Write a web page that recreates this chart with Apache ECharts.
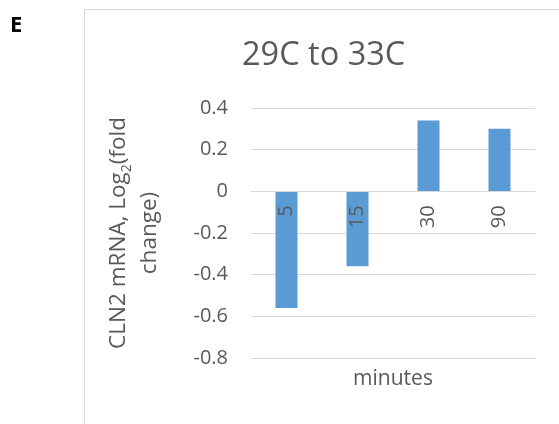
<!DOCTYPE html>
<html>
<head>
<meta charset="utf-8">
<script src="https://cdn.jsdelivr.net/npm/echarts@6/dist/echarts.min.js"></script>
<style>
html,body{margin:0;padding:0;background:#fff;}
#chart{width:559px;height:424px;}
</style>
</head>
<body>
<div id="chart"></div>
<script>
const categories = ['5', '15', '30', '90'];
const values = [-0.56, -0.36, 0.34, 0.30];
const yMin = -0.8;
const yMax = 0.4;
const yStep = 0.2;
const titleText = '29C to 33C';
const xName = 'minutes';
const panelLetter = 'E';

const FONT = 'Open Sans';
const GREY = '#595959';

const GRID_TOP = 108, GRID_BOTTOM = 66, H = 424;
const plotH = H - GRID_TOP - GRID_BOTTOM;
// move the category axis (and its labels) up to the y = 0 line
const zeroOffset = -plotH * (0 - yMin) / (yMax - yMin);

const chart = echarts.init(document.getElementById('chart'), null, {renderer: 'canvas'});
chart.setOption({
  animation: false,
  backgroundColor: '#ffffff',
  title: {
    text: titleText,
    left: 242,
    top: 39,
    padding: 0,
    textStyle: {fontFamily: FONT, fontSize: 32.5, fontWeight: 'normal', color: GREY}
  },
  grid: {left: 251, right: 24, top: GRID_TOP, bottom: GRID_BOTTOM, containLabel: false},
  xAxis: {
    type: 'category',
    data: categories,
    offset: zeroOffset,
    z: 5,
    axisLine: {show: true, onZero: false, lineStyle: {color: '#d9d9d9', width: 1}},
    axisTick: {show: false},
    axisLabel: {rotate: 90, margin: 14, fontFamily: FONT, fontSize: 20, color: GREY}
  },
  yAxis: {
    type: 'value',
    min: yMin,
    max: yMax,
    interval: yStep,
    name: 'CLN2 mRNA, Log{sub|2}(fold\nchange)',
    nameLocation: 'middle',
    nameRotate: 90,
    nameGap: 86,
    nameTextStyle: {
      fontFamily: FONT, fontSize: 22.5, color: GREY, lineHeight: 31, align: 'center',
      rich: {sub: {fontFamily: FONT, fontSize: 14, color: GREY, verticalAlign: 'bottom', padding: [8, 0, 0, 0]}}
    },
    axisLine: {show: false},
    axisTick: {show: false},
    axisLabel: {margin: 23, fontFamily: FONT, fontSize: 20, color: GREY},
    splitLine: {lineStyle: {color: '#d9d9d9', width: 1}}
  },
  series: [{
    type: 'bar',
    data: values,
    barWidth: 22,
    z: 2,
    itemStyle: {color: '#5b9bd5'}
  }],
  graphic: [
    {type: 'rect', shape: {x: 84.5, y: 9.5, width: 700, height: 600}, style: {fill: 'none', stroke: '#d9d9d9', lineWidth: 1}, z: -1},
    {type: 'text', left: 10, top: 15, style: {text: panelLetter, font: 'bold 22px "Open Sans"', fill: '#000'}},
    {type: 'text', x: 393, y: 379, style: {text: xName, font: '21px "Open Sans"', fill: GREY, textAlign: 'center', textVerticalAlign: 'middle'}}
  ]
});
</script>
</body>
</html>
